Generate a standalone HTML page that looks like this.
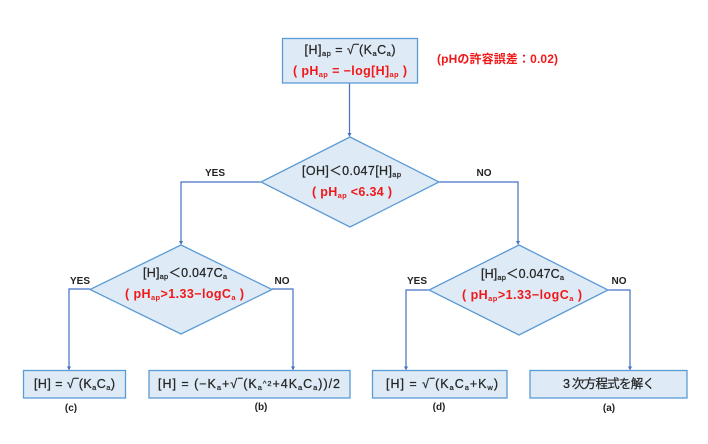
<!DOCTYPE html>
<html><head><meta charset="utf-8"><style>
html,body{margin:0;padding:0;background:#fff}
svg{display:block}
text{font-family:"Liberation Sans","Noto Sans CJK JP",sans-serif;font-size:12.500px;fill:#262626;text-anchor:middle;stroke:#262626;stroke-width:.25}
.r{fill:#f01818;stroke:#f01818;font-weight:bold;stroke-width:0}
.l{font-size:10px;font-weight:bold;stroke-width:0;fill:#222}
.s{fill:#deebf7;stroke:#5b9bd5;stroke-width:1.3}
.c{fill:none;stroke:#4472c4;stroke-width:1.2}
.a{fill:#4472c4}
</style></head><body>
<svg width="708" height="444" viewBox="0 0 708 444" xmlns="http://www.w3.org/2000/svg">
<rect width="708" height="444" fill="#fff"/>
<path class="c" d="M349.5 83V134"/><path class="a" d="M347.5 133h4l-2 4z"/>
<path class="c" d="M261 182H181V242"/><path class="a" d="M179 241h4l-2 4z"/>
<path class="c" d="M439 182H518V242"/><path class="a" d="M516 241h4l-2 4z"/>
<path class="c" d="M90 289H69V367"/><path class="a" d="M67 366.500h4l-2 4z"/>
<path class="c" d="M272 289H293V367"/><path class="a" d="M291 366.500h4l-2 4z"/>
<path class="c" d="M429 290H406V367"/><path class="a" d="M404 366.500h4l-2 4z"/>
<path class="c" d="M608 290H630V367"/><path class="a" d="M628 366.500h4l-2 4z"/>

<rect class="s" x="282.500" y="38.500" width="135" height="44.500"/>
<polygon class="s" points="350,137 439,182 350,227 261,182"/>
<polygon class="s" points="181,245 272,289.500 181,334 90,289.500"/>
<polygon class="s" points="519,245 608,290 519,335 429,290"/>
<rect class="s" x="23.500" y="370.500" width="102" height="27.500"/>
<rect class="s" x="149" y="370.500" width="201" height="27.500"/>
<rect class="s" x="372.500" y="370.500" width="134.500" height="27.500"/>
<rect class="s" x="530" y="370.500" width="157" height="27.500"/>

<text x="350" y="54" textLength="91">[H]<tspan font-size="7.500" dy="2">ap</tspan><tspan dy="-2"> = √‾(K</tspan><tspan font-size="7.500" dy="2">a</tspan><tspan dy="-2">C</tspan><tspan font-size="7.500" dy="2">a</tspan><tspan dy="-2">)</tspan></text>
<text class="r" x="350" y="75" textLength="114">( pH<tspan font-size="7.500" dy="2">ap</tspan><tspan dy="-2"> = −log[H]</tspan><tspan font-size="7.500" dy="2">ap</tspan><tspan dy="-2"> )</tspan></text>
<text class="r" x="497.500" y="63" style="font-size:12px" textLength="121">(pHの許容誤差：0.02)</text>

<text x="351.500" y="175" textLength="99">[OH]＜0.047[H]<tspan font-size="7.500" dy="2">ap</tspan></text>
<text class="r" x="352" y="196" textLength="80">( pH<tspan font-size="7.500" dy="2">ap</tspan><tspan dy="-2"> &lt;6.34 )</tspan></text>
<text x="185" y="277" textLength="84">[H]<tspan font-size="7.500" dy="2">ap</tspan><tspan dy="-2">＜0.047C</tspan><tspan font-size="7.500" dy="2">a</tspan></text>
<text class="r" x="184.500" y="298" textLength="119">( pH<tspan font-size="7.500" dy="2">ap</tspan><tspan dy="-2">&gt;1.33−logC</tspan><tspan font-size="7.500" dy="2">a</tspan><tspan dy="-2"> )</tspan></text>
<text x="522.500" y="278" textLength="83">[H]<tspan font-size="7.500" dy="2">ap</tspan><tspan dy="-2">＜0.047C</tspan><tspan font-size="7.500" dy="2">a</tspan></text>
<text class="r" x="522" y="299" textLength="120">( pH<tspan font-size="7.500" dy="2">ap</tspan><tspan dy="-2">&gt;1.33−logC</tspan><tspan font-size="7.500" dy="2">a</tspan><tspan dy="-2"> )</tspan></text>

<text class="l" x="215" y="176">YES</text>
<text class="l" x="484" y="176">NO</text>
<text class="l" x="80" y="284">YES</text>
<text class="l" x="282" y="284">NO</text>
<text class="l" x="417" y="284">YES</text>
<text class="l" x="619" y="284">NO</text>

<text x="74.500" y="388" textLength="81">[H] = √‾(K<tspan font-size="7.500" dy="2">a</tspan><tspan dy="-2">C</tspan><tspan font-size="7.500" dy="2">a</tspan><tspan dy="-2">)</tspan></text>
<text x="249" y="388" textLength="182">[H] = (−K<tspan font-size="7.500" dy="2">a</tspan><tspan dy="-2">+√‾(K</tspan><tspan font-size="7.500" dy="2">a</tspan><tspan font-size="7.500" dy="-4">^2</tspan><tspan dy="2">+4K</tspan><tspan font-size="7.500" dy="2">a</tspan><tspan dy="-2">C</tspan><tspan font-size="7.500" dy="2">a</tspan><tspan dy="-2">))/2</tspan></text>
<text x="442" y="388" textLength="112">[H] = √‾(K<tspan font-size="7.500" dy="2">a</tspan><tspan dy="-2">C</tspan><tspan font-size="7.500" dy="2">a</tspan><tspan dy="-2">+K</tspan><tspan font-size="7.500" dy="2">w</tspan><tspan dy="-2">)</tspan></text>
<text x="609" y="388" textLength="92">3 次方程式を解く</text>

<text class="l" x="71" y="411">(c)</text>
<text class="l" x="261" y="410">(b)</text>
<text class="l" x="439" y="410">(d)</text>
<text class="l" x="609" y="411">(a)</text>
</svg>
</body></html>
